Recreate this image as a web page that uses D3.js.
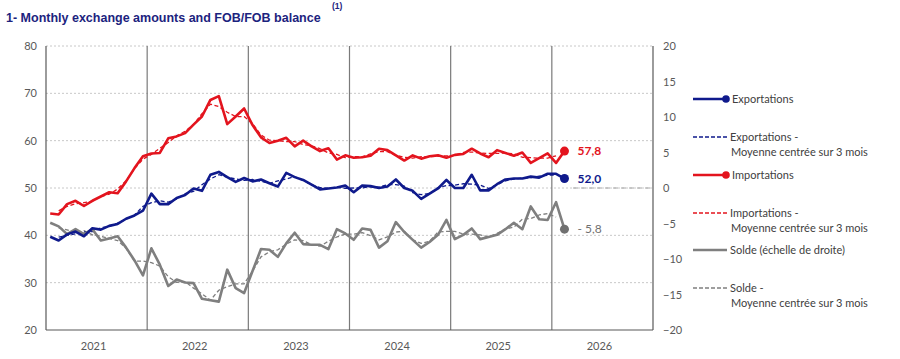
<!DOCTYPE html>
<html>
<head>
<meta charset="utf-8">
<script src="https://cdn.jsdelivr.net/npm/d3@7"></script>
<style>
  body { margin: 0; background: #fff; }
  svg { display: block; }
</style>
</head>
<body>
<svg width="900" height="359"></svg>
<script>
// monthly values, Jan 2021 -> Feb 2026
const years = ["2021", "2022", "2023", "2024", "2025", "2026"];

const exportations = [
  39.7, 38.9, 40.2, 40.8, 39.8, 41.5, 41.2, 42.0, 42.4, 43.5, 44.2, 45.2,
  48.8, 46.6, 46.6, 47.9, 48.5, 49.9, 49.4, 52.8, 53.4, 52.3, 51.3, 52.1,
  51.4, 51.8, 51.0, 50.3, 53.2, 52.3, 51.7, 50.7, 49.7, 49.9, 50.1, 50.5,
  49.1, 50.5, 50.4, 50.0, 50.3, 51.8, 50.0, 49.4, 47.7, 48.8, 49.9, 51.7,
  50.0, 50.0, 52.8, 49.5, 49.5, 50.8, 51.8, 52.0, 52.0, 52.4, 52.2, 53.0,
  53.0, 52.0
];
const exportationsMoy = [
  null, 39.6, 40.0, 40.3, 40.7, 40.8, 41.6, 41.9, 42.6, 43.4, 44.3, 46.1,
  46.9, 47.3, 47.0, 47.7, 48.8, 49.3, 50.7, 51.9, 52.8, 52.3, 51.9, 51.6,
  51.8, 51.4, 51.0, 51.5, 51.9, 52.4, 51.6, 50.7, 50.1, 49.9, 50.2, 49.9,
  50.0, 50.0, 50.3, 50.2, 50.7, 50.7, 50.4, 49.0, 48.6, 48.8, 50.1, 50.5,
  50.6, 50.9, 50.8, 50.6, 49.9, 50.7, 51.5, 51.9, 52.1, 52.2, 52.5, 52.7,
  52.7, null
];

const importations = [
  44.6, 44.4, 46.6, 47.3, 46.2, 47.3, 48.2, 49.1, 48.9, 51.4, 54.2, 56.7,
  57.3, 57.4, 60.5, 60.9, 61.6, 63.4, 65.1, 68.6, 69.4, 63.5, 65.1, 66.8,
  63.3, 60.7, 59.5, 60.0, 60.6, 58.8, 60.0, 58.8, 57.8, 58.4, 56.0, 56.9,
  56.4, 56.5, 56.8, 58.3, 58.0, 56.9, 55.8, 56.9, 56.2, 56.7, 56.9, 56.4,
  57.0, 57.2, 58.3, 57.3, 56.5, 58.0, 57.4, 56.8, 57.5, 55.3, 56.3, 57.3,
  55.3, 57.8
];
const importationsMoy = [
  null, 45.2, 46.1, 46.7, 46.9, 47.2, 48.2, 48.7, 49.8, 51.5, 54.1, 56.1,
  57.1, 58.4, 59.6, 61.0, 62.0, 63.4, 65.7, 67.7, 67.2, 66.0, 65.1, 65.1,
  63.6, 61.2, 60.1, 60.0, 59.8, 59.8, 59.2, 58.9, 58.3, 57.4, 57.1, 56.4,
  56.6, 56.6, 57.2, 57.7, 57.7, 56.9, 56.5, 56.3, 56.6, 56.6, 56.7, 56.8,
  56.9, 57.5, 57.6, 57.4, 57.3, 57.3, 57.4, 57.2, 56.5, 56.4, 56.3, 56.3,
  56.8, null
];

const solde = [
  -4.9, -5.4, -6.5, -5.8, -6.5, -5.8, -7.4, -7.1, -6.8, -8.4, -10.2, -12.3,
  -8.5, -10.8, -13.8, -12.9, -13.3, -13.4, -15.6, -15.8, -16.0, -11.5, -14.1, -14.8,
  -11.7, -8.6, -8.7, -9.7, -7.8, -6.3, -7.9, -8.0, -8.0, -8.6, -5.8, -6.4,
  -7.3, -5.7, -5.9, -8.4, -7.5, -4.8, -6.2, -7.3, -8.4, -7.6, -6.6, -4.5,
  -7.2, -6.6, -5.7, -7.2, -6.9, -6.6, -5.8, -4.9, -5.8, -2.6, -4.4, -4.5,
  -2.0, -5.8
];
const soldeMoy = [
  null, -5.6, -5.9, -6.3, -6.0, -6.6, -6.8, -7.1, -7.4, -8.5, -10.3, -10.3,
  -10.5, -11.0, -12.5, -13.3, -13.2, -14.1, -14.9, -15.8, -14.4, -13.9, -13.5, -13.5,
  -11.7, -9.7, -9.0, -8.7, -7.9, -7.3, -7.4, -8.0, -8.2, -7.5, -6.9, -6.5,
  -6.5, -6.3, -6.7, -7.3, -6.9, -6.2, -6.1, -7.3, -7.8, -7.5, -6.2, -6.1,
  -6.1, -6.5, -6.5, -6.6, -6.9, -6.4, -5.8, -5.5, -4.4, -4.3, -3.8, -3.6,
  -4.1, null
];

const leftTicks = [20, 30, 40, 50, 60, 70, 80];
const rightTicks = [-20, -15, -10, -5, 0, 5, 10, 15, 20];

const NAVY = "#0f1a8c", RED = "#e3141e", GREY = "#7f7f7f";
const FONT = "Lato, 'Open Sans', sans-serif";

const svg = d3.select("svg");

const x = d3.scaleLinear().domain([0, years.length * 12]).range([46, 653]);
const yL = d3.scaleLinear().domain([20, 80]).range([330, 46]);
const yR = d3.scaleLinear().domain([-20, 20]).range([330, 46]);

// title
svg.append("text")
    .attr("x", 6).attr("y", 22)
    .attr("font-family", "'Liberation Sans', Arial, sans-serif")
    .attr("font-weight", "bold")
    .attr("font-size", 12.5)
    .attr("fill", "#1c237e")
    .text("1- Monthly exchange amounts and FOB/FOB balance");
svg.append("text")
    .attr("x", 332).attr("y", 9)
    .attr("font-family", "'Liberation Sans', Arial, sans-serif")
    .attr("font-weight", "bold")
    .attr("font-size", 8.5)
    .attr("fill", "#1c237e")
    .text("(1)");

// gridlines (left scale)
svg.append("g").selectAll("line")
    .data(leftTicks.filter(d => d > 20))
    .enter().append("line")
    .attr("x1", 46).attr("x2", 653)
    .attr("y1", d => yL(d)).attr("y2", d => yL(d))
    .attr("stroke", "#c8c8c8")
    .attr("stroke-dasharray", "2,2");

// year separators
svg.append("g").selectAll("line")
    .data(d3.range(1, years.length))
    .enter().append("line")
    .attr("x1", d => x(d * 12)).attr("x2", d => x(d * 12))
    .attr("y1", 46).attr("y2", 330)
    .attr("stroke", "#7a7a7a")
    .attr("stroke-width", 1.2);

// frame
svg.append("line").attr("x1", 46).attr("x2", 46).attr("y1", 46).attr("y2", 330)
    .attr("stroke", "#595959").attr("stroke-width", 1.2);
svg.append("line").attr("x1", 653).attr("x2", 653).attr("y1", 46).attr("y2", 330)
    .attr("stroke", "#595959").attr("stroke-width", 1.2);
svg.append("line").attr("x1", 46).attr("x2", 653).attr("y1", 330).attr("y2", 330)
    .attr("stroke", "#595959").attr("stroke-width", 1.2);

// zero line of the right scale, beside the end labels
svg.append("line")
    .attr("x1", 573).attr("x2", 653)
    .attr("y1", yR(0)).attr("y2", yR(0))
    .attr("stroke", "#a6a6a6")
    .attr("stroke-dasharray", "5,3");

// axes
const styleAxis = g => {
  g.select(".domain").remove();
  g.selectAll("text").attr("fill", "#595959").attr("font-size", 11).attr("font-family", FONT);
};

svg.append("g")
    .attr("transform", "translate(46,0)")
    .call(d3.axisLeft(yL).tickValues(leftTicks).tickSize(0).tickPadding(9))
    .call(styleAxis);

svg.append("g")
    .attr("transform", "translate(653,0)")
    .call(d3.axisRight(yR).tickValues(rightTicks).tickSize(0).tickPadding(10).tickFormat(d3.format("d")))
    .call(styleAxis);

svg.append("g")
    .attr("transform", "translate(-3.5,330)")
    .call(d3.axisBottom(x).tickValues(years.map((d, i) => i * 12 + 6)).tickSize(0).tickPadding(12)
      .tickFormat((d, i) => years[i]))
    .call(styleAxis);

// lines
const lineL = d3.line().defined(d => d != null).x((d, i) => x(i + 0.5)).y(d => yL(d));
const lineR = d3.line().defined(d => d != null).x((d, i) => x(i + 0.5)).y(d => yR(d));

const series = [
  {data: soldeMoy, line: lineR, color: GREY, dash: true},
  {data: exportationsMoy, line: lineL, color: NAVY, dash: true},
  {data: importationsMoy, line: lineL, color: RED, dash: true},
  {data: solde, line: lineR, color: GREY, dash: false},
  {data: exportations, line: lineL, color: NAVY, dash: false},
  {data: importations, line: lineL, color: RED, dash: false}
];

series.forEach(s => {
  svg.append("path")
      .attr("d", s.line(s.data))
      .attr("fill", "none")
      .attr("stroke", s.color)
      .attr("stroke-width", s.dash ? 1.3 : 2.6)
      .attr("stroke-dasharray", s.dash ? "4,2.5" : null)
      .attr("stroke-linejoin", "round");
});

// end points and labels
const fmt = v => d3.format(".1f")(Math.abs(v)).replace(".", ",");
const ends = [
  {data: importations, y: yL, color: RED, label: d => fmt(d), bold: true},
  {data: exportations, y: yL, color: NAVY, label: d => fmt(d), bold: true},
  {data: solde, y: yR, color: "#707070", label: d => "- " + fmt(d), bold: false}
];
ends.forEach(e => {
  const i = e.data.length - 1;
  const v = e.data[i];
  svg.append("circle")
      .attr("cx", x(i + 0.5)).attr("cy", e.y(v)).attr("r", 4.5)
      .attr("fill", e.color);
  svg.append("text")
      .attr("x", x(i + 0.5) + 13).attr("y", e.y(v))
      .attr("dy", "0.35em")
      .attr("font-family", FONT)
      .attr("font-size", 12)
      .attr("font-weight", e.bold ? "bold" : "normal")
      .attr("fill", e.color)
      .text(e.label(v));
});

// legend
const legend = [
  {y: 99, color: NAVY, dash: false, dot: true, text: ["Exportations"]},
  {y: 137, color: NAVY, dash: true, dot: false, text: ["Exportations -", "Moyenne centrée sur 3 mois"]},
  {y: 175, color: RED, dash: false, dot: true, text: ["Importations"]},
  {y: 213, color: RED, dash: true, dot: false, text: ["Importations -", "Moyenne centrée sur 3 mois"]},
  {y: 250, color: GREY, dash: false, dot: false, text: ["Solde (échelle de droite)"]},
  {y: 288, color: GREY, dash: true, dot: false, text: ["Solde -", "Moyenne centrée sur 3 mois"]}
];

const lg = svg.append("g");
legend.forEach(l => {
  lg.append("line")
      .attr("x1", 693).attr("x2", 727)
      .attr("y1", l.y).attr("y2", l.y)
      .attr("stroke", l.color)
      .attr("stroke-width", l.dash ? 1.3 : 2.4)
      .attr("stroke-dasharray", l.dash ? "4,2" : null);
  if (l.dot) {
    lg.append("circle").attr("cx", 726).attr("cy", l.y).attr("r", 3.8).attr("fill", l.color);
  }
  l.text.forEach((t, k) => {
    lg.append("text")
        .attr("x", k === 0 ? (l.dot ? 732 : 730) : 731)
        .attr("y", l.y + k * 15.5)
        .attr("dy", "0.35em")
        .attr("font-family", FONT)
        .attr("font-size", 11)
        .attr("fill", "#404040")
        .text(t);
  });
});
</script>
</body>
</html>
